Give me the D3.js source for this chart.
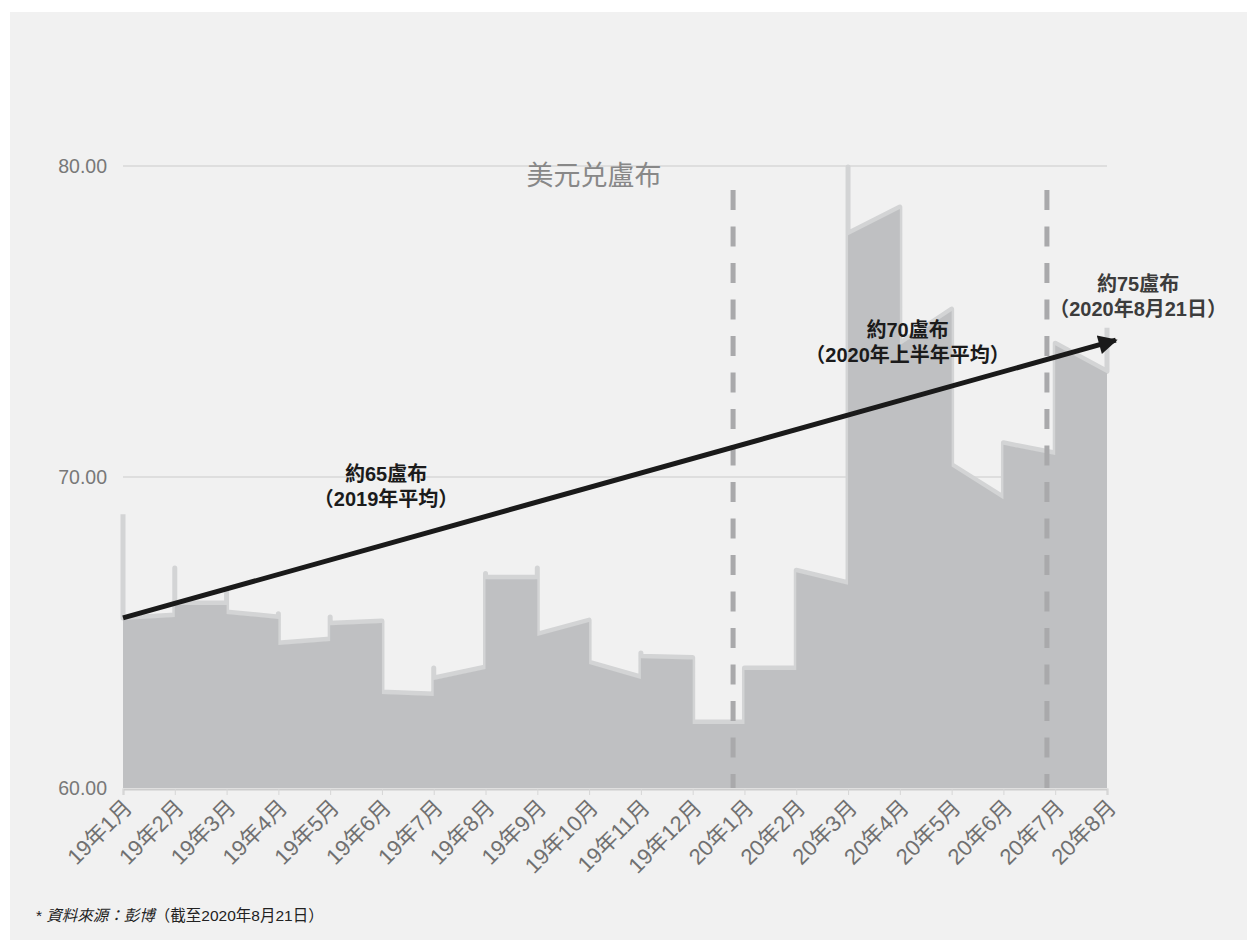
<!DOCTYPE html>
<html><head><meta charset="utf-8">
<script src="https://cdn.jsdelivr.net/npm/d3@7"></script>
<style>
html,body{margin:0;padding:0;background:#fff;}
svg{display:block;}
</style></head>
<body>
<script>
// ---- data ----
const monthLabels = ["19年1月","19年2月","19年3月","19年4月","19年5月","19年6月","19年7月","19年8月","19年9月","19年10月","19年11月","19年12月","20年1月","20年2月","20年3月","20年4月","20年5月","20年6月","20年7月","20年8月"];
const yTicks = [60, 70, 80];
// profile of the rate (month index, RUB per USD)
const profileT = [0,0,1,1,1,2,2,2,3,3,3,4,4,4,5,5,6,6,6,7,7,7,8,8,8,9,9,10,10,10,11,11,12,12,13,13,14,14,14,15,15,15,16,16,17,17,17,18,18,18,19,19];
const profileV = [68.8,65.47,65.56,67.07,65.95,65.95,66.3,65.66,65.5,65.6,64.66,64.79,65.5,65.3,65.37,63.09,63.02,63.86,63.54,63.89,66.9,66.78,66.78,67.07,64.95,65.4,64.05,63.57,64.34,64.24,64.2,62.12,62.12,63.86,63.86,67.0,66.6,79.97,77.84,78.68,73.0,74.3,75.4,70.4,69.35,68.3,71.1,70.77,70.3,74.3,73.4,74.8];
const periodLines = [11.78, 17.84];
const arrowFrom = [0, 65.47];
const arrowTo = [19.17, 74.4];
const notes = [
  {t: 5.08, v: 70.1, l1: "約65盧布", l2: "（2019年平均）", c: "#1b1b1b"},
  {t: 15.15, v: 74.73, l1: "約70盧布", l2: "（2020年上半年平均）", c: "#1b1b1b"},
  {t: 19.6, v: 76.22, l1: "約75盧布", l2: "（2020年8月21日）", c: "#3c3c3c"}
];
const title = "美元兑盧布";

// ---- drawing ----
const W = 1247, H = 940;
const svg = d3.select("body").append("svg").attr("width", W).attr("height", H);
svg.append("rect").attr("x", 10).attr("y", 12).attr("width", W - 10).attr("height", H - 12).attr("fill", "#f1f1f1");

const x = d3.scaleLinear().domain([0, monthLabels.length - 1]).range([123, 1107]);
const y = d3.scaleLinear().domain([60, 80]).range([788, 166]);
const font = "'Liberation Sans','Noto Sans CJK TC',sans-serif";

// gridlines
svg.append("g").selectAll("line").data(yTicks.filter(d => d > 60)).join("line")
  .attr("x1", x(0)).attr("x2", x(19)).attr("y1", d => y(d)).attr("y2", d => y(d))
  .attr("stroke", "#dedede").attr("stroke-width", 2);

// y labels
svg.append("g").selectAll("text").data(yTicks).join("text")
  .attr("x", 107).attr("y", d => y(d)).attr("dy", "0.36em")
  .attr("text-anchor", "end").attr("font-family", font).attr("font-size", 19.5)
  .attr("fill", "#787878").text(d => d.toFixed(2));

const pts = profileT.map((t, i) => [t, profileV[i]]);
// light outline
svg.append("path").datum(pts)
  .attr("d", d3.line().x(d => x(d[0])).y(d => y(d[1])))
  .attr("fill", "none").attr("stroke", "#d3d4d5").attr("stroke-width", 5).attr("stroke-linejoin", "round");
// area
svg.append("path").datum(pts.slice(1))
  .attr("d", d3.area().x(d => x(d[0])).y0(y(60)).y1(d => y(d[1]) + 2))
  .attr("fill", "#bfc0c2");

// x axis
const xAxis = d3.axisBottom(x).tickValues(d3.range(monthLabels.length)).tickSize(6).tickFormat(i => monthLabels[i]);
const gx = svg.append("g").attr("transform", `translate(0,${y(60) + 1})`).call(xAxis);
gx.select(".domain").attr("stroke", "#cdcdcd").attr("stroke-width", 2);
gx.selectAll(".tick line").attr("stroke", "#d6d6d6").attr("stroke-width", 1);
gx.selectAll(".tick text")
  .attr("font-family", font).attr("font-size", 22).attr("fill", "#707070")
  .attr("text-anchor", "end").attr("dy", 0).attr("y", 0)
  .attr("transform", "translate(10,20) rotate(-45)");

// period dashed lines
svg.append("g").selectAll("line").data(periodLines).join("line")
  .attr("x1", d => x(d)).attr("x2", d => x(d)).attr("y1", y(79.23)).attr("y2", y(60))
  .attr("stroke", "#a9a9ab").attr("stroke-width", 5).attr("stroke-dasharray", "20 16.5");

// title
svg.append("text").attr("x", 594).attr("y", 176).attr("dy", "0.35em").attr("text-anchor", "middle")
  .attr("font-family", font).attr("font-size", 27).attr("fill", "#888").text(title);

// arrow
const defs = svg.append("defs");
defs.append("marker").attr("id", "ah").attr("viewBox", "0 0 10 10").attr("refX", 9).attr("refY", 5)
  .attr("markerWidth", 4.2).attr("markerHeight", 3.8).attr("markerUnits", "strokeWidth").attr("orient", "auto")
  .append("path").attr("d", "M0,0 L10,5 L0,10 Z").attr("fill", "#1a1a1a");
svg.append("line")
  .attr("x1", x(arrowFrom[0])).attr("y1", y(arrowFrom[1]))
  .attr("x2", x(arrowTo[0])).attr("y2", y(arrowTo[1]))
  .attr("stroke", "#1a1a1a").attr("stroke-width", 5).attr("marker-end", "url(#ah)");

// annotations
const ng = svg.append("g").selectAll("g").data(notes).join("g")
  .attr("transform", d => `translate(${x(d.t)},${y(d.v)})`);
ng.append("text").attr("text-anchor", "middle").attr("dy", "0.35em")
  .attr("font-family", font).attr("font-size", 20).attr("font-weight", "bold").attr("fill", d => d.c).text(d => d.l1);
ng.append("text").attr("text-anchor", "middle").attr("y", 25).attr("dy", "0.35em")
  .attr("font-family", font).attr("font-size", 20).attr("font-weight", "bold").attr("fill", d => d.c).text(d => d.l2);

// footnote
const fn = svg.append("text").attr("x", 36).attr("y", 921).attr("font-family", font).attr("font-size", 15.5).attr("fill", "#222");
fn.append("tspan").text("* ");
fn.append("tspan").attr("font-style", "italic").text("資料來源：彭博");
fn.append("tspan").text("（截至2020年8月21日）");
</script>
</body></html>
